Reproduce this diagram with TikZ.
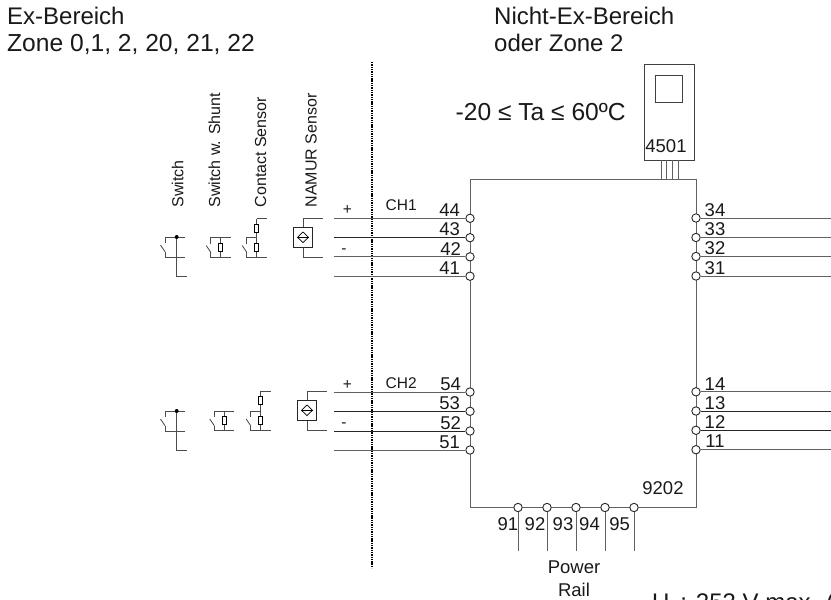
\documentclass[tikz,border=0pt]{standalone}
\usepackage{fontspec}
\setmainfont{Liberation Sans}
\newcommand{\fs}[1]{\fontsize{#1}{#1}\selectfont}
\tikzset{
  wire/.style={draw=black!62,line width=1pt},
  bwire/.style={draw=black!85,line width=1pt},
  term/.style={circle,draw=black!85,fill=white,line width=0.9pt,minimum size=8.4pt,inner sep=0pt},
  lbl/.style={inner sep=0pt,text=black!90},
  tnum/.style={lbl,font=\fs{18.5}},
  head/.style={lbl,anchor=base west,font=\fs{24}},
  headb/.style={lbl,anchor=base west,font=\fs{24.6}},
  small/.style={lbl,font=\fs{15.5}},
  rotlbl/.style={lbl,font=\fs{16}},
  res/.style={rectangle,draw=black,fill=white,line width=0.7pt,minimum width=4.2pt,minimum height=8pt,inner sep=0pt},
  sym/.style={draw=black!70,line width=0.85pt}
}
% x, top y, bottom y, top line end, bottom line end
\newcommand{\swi}[5]{%
  \draw[sym] (#4,#2) -- (#1,#2) -- (#1,#2+6);
  \draw[sym] (#1-4.5,#2+8) -- (#1,#2+14.7);
  \draw[sym] (#1,#2+14.7) -- (#1,#3) -- (#5,#3);
}
\begin{document}
\begin{tikzpicture}[x=1pt,y=-1pt]
\useasboundingbox (0,0) rectangle (831,600);
\begin{scope}
\clip (0,0) rectangle (831,600);
% header
\node[head] (h1) at (7,24) {Ex-Bereich};
\node[headb] (h2) at (7,51.7) {Zone 0,1, 2, 20, 21, 22};
\node[head] (h3) at (494,24) {Nicht-Ex-Bereich};
\node[head] (h4) at (494,51.7) {oder Zone 2};
\node[headb] (ta) at (455.5,120) {-20 ≤ Ta ≤ 60ºC};
% divider
\draw[black,line width=2.4pt,dash pattern=on 1.4pt off 0.9pt] (372,62) -- (372,568);
% main box
\coordinate (tl) at (470,179.5);
\coordinate (tr) at (696,179.5);
\coordinate (bl) at (470,507.5);
\coordinate (br) at (696,507.5);
\draw[wire] (tl) -- (tr) -- (br) -- (bl) -- cycle;
% display unit
\node[draw=black!75,line width=0.9pt,minimum width=50.5pt,minimum height=96.5pt,inner sep=0pt,anchor=north west] (disp) at (643.8,63.5) {};
\node[draw=black!75,line width=0.9pt,minimum width=27pt,minimum height=27pt,inner sep=0pt,anchor=north west] (screen) at (655.3,75.3) {};
\node[tnum,anchor=base] (n4501) at (666,152) {4501};
\foreach \x in {661,666.5,672,678} \draw[wire] (\x,160) -- (\x,179.5);
% left terminals
\foreach \n/\y/\t/\c/\o in {a/218.3/44/wire/0,b/237.7/43/bwire/0,c/256.8/42/wire/1,d/276.2/41/wire/0,
                         e/392/54/wire/1,f/411.3/53/bwire/0,g/431/52/bwire/1,h/450/51/wire/0}{
  \coordinate (l\n) at (334,\y);
  \node[term] (t\n) at (470,\y) {};
  \draw[\c] (l\n) -- (t\n);
  \node[tnum,anchor=base] at (449.7+\o,\y-1.8) {\t};
}
% right terminals
\foreach \n/\y/\t/\c in {a/218/34/wire,b/237.5/33/wire,c/256.5/32/wire,d/276/31/wire,
                         e/391.8/14/wire,f/411/13/bwire,g/430.3/12/bwire,h/449.7/11/wire}{
  \coordinate (r\n) at (831,\y);
  \node[term] (u\n) at (696,\y) {};
  \draw[\c] (u\n) -- (r\n);
  \node[tnum,anchor=base] at (715,\y-1.8) {\t};
}
% bottom terminals
\foreach \n/\x/\t/\lx in {1/518/91/507.8,2/547/92/535,3/576/93/563,4/605/94/589.5,5/634/95/619.7}{
  \coordinate (p\n) at (\x,550.7);
  \node[term] (v\n) at (\x,507.5) {};
  \draw[wire] (v\n) -- (p\n);
  \node[tnum,anchor=base] at (\lx,530) {\t};
}
\node[tnum,anchor=base] (n9202) at (663,494) {9202};
\node[lbl,anchor=base,font=\fs{18.5}] (pw) at (574,573.3) {Power};
\node[lbl,anchor=base,font=\fs{18.5}] (rl) at (574,596.5) {Rail};
\node[head] (um) at (652,610) {U\textsubscript{i} : 253 V max. (};
% channel labels
\node[small,anchor=base] at (347.5,214) {+};
\node[small,anchor=base] at (344,253) {-};
\node[small,anchor=base west] at (385.5,210.5) {CH1};
\node[small,anchor=base] at (347.5,389) {+};
\node[small,anchor=base] at (344,427) {-};
\node[small,anchor=base west] at (385.5,388) {CH2};
% rotated sensor labels
\foreach \x/\t in {183.3/Switch,220/Switch w. Shunt,266/Contact Sensor,316.7/NAMUR Sensor}
  \node[rotlbl,rotate=90,anchor=base west] at (\x,207.5) {\t};
% --- CH1 sensor symbols
\swi{165}{237}{257.5}{185}{185}
\draw[sym] (176.7,237) -- (176.7,276) -- (187,276);
\fill[black] (176.7,237) circle (2pt);
\swi{210.7}{237.5}{257.5}{230.7}{230.7}
\draw[sym] (220.5,237.5) -- (220.5,257.5);
\node[res] at (220.5,247.5) {};
\swi{246.7}{237.5}{257.5}{256.7}{266.7}
\draw[sym] (256.7,218.5) -- (266.7,218.5);
\draw[sym] (256.7,218.5) -- (256.7,257.5);
\node[res] at (256.7,228) {};
\node[res] at (256.7,247.5) {};
\node[draw=black!85,fill=white,line width=0.9pt,minimum size=19.5pt,inner sep=0pt] (nm1) at (303,237.3) {};
\draw[sym] (nm1.north) -- (303,218.5) -- (323,218.5);
\draw[sym] (nm1.south) -- (303,257.5) -- (323,257.5);
\draw[black,line width=0.7pt] (297.5,237.3) -- (303,232) -- (308.5,237.3) -- (303,242.6) -- cycle;
\draw[black,line width=0.7pt] (297.5,237.3) -- (308.5,237.3);
% --- CH2 sensor symbols
\swi{165}{411}{431}{185}{185}
\draw[sym] (176.7,411) -- (176.7,450) -- (187,450);
\fill[black] (176.7,411) circle (2pt);
\swi{214.3}{411}{430.7}{234.3}{234.3}
\draw[sym] (224.3,411) -- (224.3,430.7);
\node[res] at (224.3,420.5) {};
\swi{250.7}{411}{430.7}{260.5}{270.7}
\draw[sym] (260.5,391.3) -- (270.7,391.3);
\draw[sym] (260.5,391.3) -- (260.5,430.7);
\node[res] at (260.5,400.5) {};
\node[res] at (260.5,420.5) {};
\node[draw=black!85,fill=white,line width=0.9pt,minimum size=19.5pt,inner sep=0pt] (nm2) at (307,410.3) {};
\draw[sym] (nm2.north) -- (307,391.5) -- (327,391.5);
\draw[sym] (nm2.south) -- (307,430.5) -- (327,430.5);
\draw[black,line width=0.7pt] (301.5,410.3) -- (307,405) -- (312.5,410.3) -- (307,415.6) -- cycle;
\draw[black,line width=0.7pt] (301.5,410.3) -- (312.5,410.3);
\end{scope}
\end{tikzpicture}
\end{document}
